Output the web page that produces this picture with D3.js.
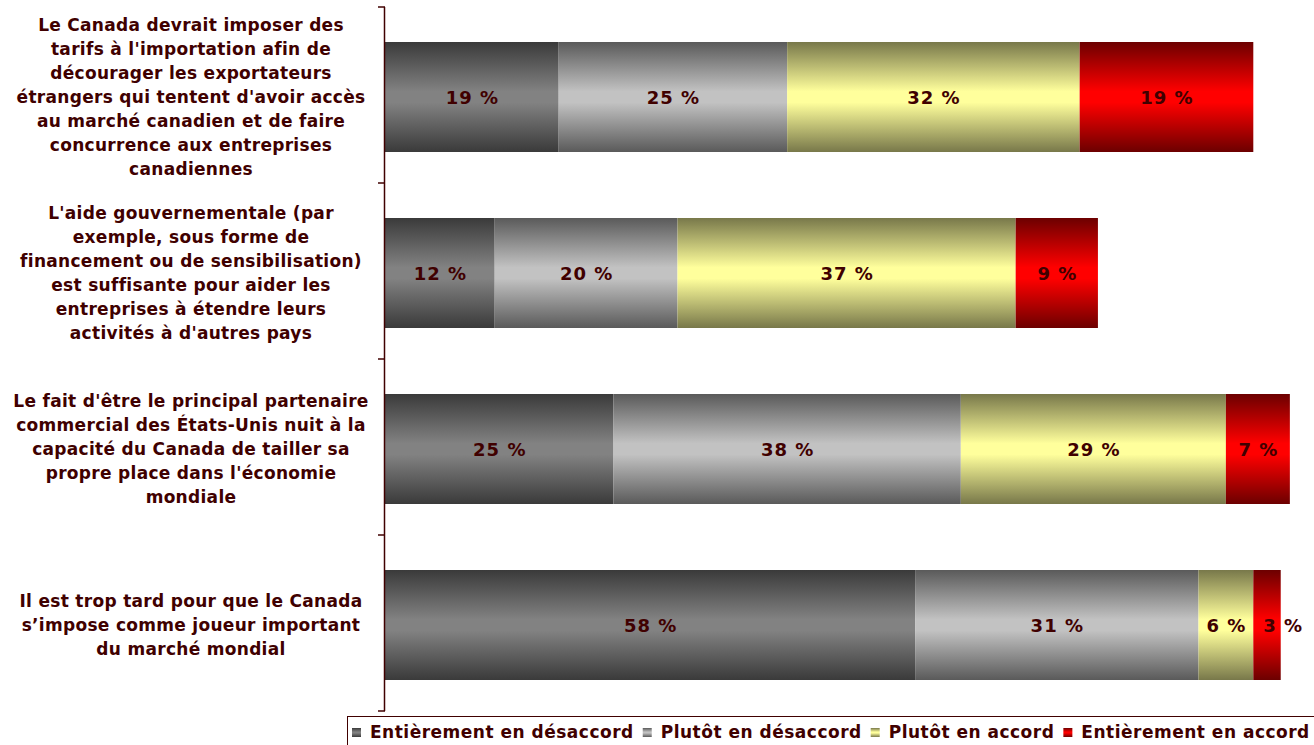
<!DOCTYPE html>
<html>
<head>
<meta charset="utf-8">
<script src="https://cdn.jsdelivr.net/npm/d3@7"></script>
<style>
  html, body { margin: 0; padding: 0; background: #fff; }
  svg { display: block; }
  text { font-family: "DejaVu Sans", Verdana, sans-serif; font-weight: bold; fill: #400000; }
</style>
</head>
<body>
<svg id="chart" width="1314" height="745"></svg>
<script>
// Survey statements (one line per array entry)
const statements = [
  ["Le Canada devrait imposer des", "tarifs à l'importation afin de", "décourager les exportateurs",
   "étrangers qui tentent d'avoir accès", "au marché canadien et de faire",
   "concurrence aux entreprises", "canadiennes"],
  ["L'aide gouvernementale (par", "exemple, sous forme de", "financement ou de sensibilisation)",
   "est suffisante pour aider les", "entreprises à étendre leurs", "activités à d'autres pays"],
  ["Le fait d'être le principal partenaire", "commercial des États-Unis nuit à la",
   "capacité du Canada de tailler sa", "propre place dans l'économie", "mondiale"],
  ["Il est trop tard pour que le Canada", "s’impose comme joueur important", "du marché mondial"]
];

// Answer categories
const seriesNames = ["Entièrement en désaccord", "Plutôt en désaccord", "Plutôt en accord", "Entièrement en accord"];

// Percentages per answer category, one value per statement
const stronglyDisagree = [19, 12, 25, 58];
const somewhatDisagree = [25, 20, 38, 31];
const somewhatAgree    = [32, 37, 29, 6];
const stronglyAgree    = [19, 9, 7, 3];

const seriesValues = [stronglyDisagree, somewhatDisagree, somewhatAgree, stronglyAgree];

// Gradient colours for each series: [edge, centre]
const seriesColors = [
  ["#3a3a3a", "#828282"],
  ["#5a5a5a", "#c2c2c2"],
  ["#78784a", "#ffff9c"],
  ["#6c0000", "#ff0000"]
];

const svg = d3.select("#chart");
const defs = svg.append("defs");
seriesColors.forEach((c, i) => {
  const g = defs.append("linearGradient")
    .attr("id", "grad" + i)
    .attr("x1", 0).attr("y1", 0).attr("x2", 0).attr("y2", 1);
  g.append("stop").attr("offset", "0%").attr("stop-color", c[0]);
  g.append("stop").attr("offset", "45%").attr("stop-color", c[1]);
  g.append("stop").attr("offset", "55%").attr("stop-color", c[1]);
  g.append("stop").attr("offset", "100%").attr("stop-color", c[0]);
});

const plotLeft = 385, plotRight = 1299, plotTop = 7, plotBottom = 711;

const x = d3.scaleLinear().domain([0, 100]).range([plotLeft, plotRight]);
const y = d3.scaleBand()
  .domain(d3.range(statements.length))
  .range([plotTop, plotBottom])
  .paddingInner(0.375)
  .paddingOuter(0.1875);

// Stack the series
const rows = d3.range(statements.length).map(i => {
  const r = { idx: i };
  seriesNames.forEach((s, k) => r[k] = seriesValues[k][i]);
  return r;
});
const stack = d3.stack().keys(d3.range(seriesNames.length));
const stacked = stack(rows);

const layers = svg.append("g").selectAll("g")
  .data(stacked)
  .join("g")
  .attr("fill", (d, k) => `url(#grad${k})`);

layers.selectAll("rect")
  .data(d => d)
  .join("rect")
  .attr("x", d => x(d[0]))
  .attr("y", d => y(d.data.idx) + 2)
  .attr("width", d => x(d[1]) - x(d[0]))
  .attr("height", y.bandwidth());

// Value labels (centred; a label wider than its segment starts just inside it)
const labelG = svg.append("g");
stacked.forEach((layer, k) => {
  labelG.selectAll(null)
    .data(layer)
    .join("text")
    .attr("y", d => y(d.data.idx) + 2 + y.bandwidth() / 2)
    .attr("dominant-baseline", "central")
    .style("font-size", "18px")
    .style("letter-spacing", "1px")
    .text(d => `${d[1] - d[0]} %`)
    .each(function (d) {
      const w = this.getComputedTextLength();
      const segW = x(d[1]) - x(d[0]);
      const t = d3.select(this);
      if (w > segW) {
        t.attr("x", x(d[0]) + 10).attr("text-anchor", "start");
      } else {
        t.attr("x", (x(d[0]) + x(d[1])) / 2 + 0.5).attr("text-anchor", "middle");
      }
    });
});

// Category axis with ticks at band boundaries
const axisG = svg.append("g");
axisG.append("line")
  .attr("x1", plotLeft - 0.5).attr("x2", plotLeft - 0.5)
  .attr("y1", plotTop).attr("y2", plotBottom)
  .attr("stroke", "#400000").attr("stroke-width", 1.5);
const bounds = d3.range(statements.length + 1).map(i => plotTop + i * y.step());
axisG.selectAll("line.tick")
  .data(bounds)
  .join("line")
  .attr("class", "tick")
  .attr("x1", plotLeft - 7).attr("x2", plotLeft)
  .attr("y1", d => d).attr("y2", d => d)
  .attr("stroke", "#400000").attr("stroke-width", 1.5);

// Category labels
const lineH = 24;
const catG = svg.append("g");
statements.forEach((lines, i) => {
  const cy = y(i) + 2 + y.bandwidth() / 2;
  const t = catG.append("text")
    .attr("text-anchor", "middle")
    .style("font-size", "17px")
    .style("letter-spacing", "0.3px");
  lines.forEach((ln, j) => {
    t.append("tspan")
      .attr("x", 191)
      .attr("y", cy + (j - (lines.length - 1) / 2) * lineH)
      .attr("dominant-baseline", "central")
      .text(ln);
  });
});

// Legend
const legend = svg.append("g");
legend.append("rect")
  .attr("x", 347.5).attr("y", 716.5)
  .attr("width", 1000).attr("height", 40)
  .attr("fill", "#fff").attr("stroke", "#400000").attr("stroke-width", 1);
let lx = 352;
seriesNames.forEach((name, k) => {
  legend.append("rect")
    .attr("x", lx).attr("y", 728)
    .attr("width", 9).attr("height", 9)
    .attr("fill", `url(#grad${k})`);
  const t = legend.append("text")
    .attr("x", lx + 18).attr("y", 732)
    .attr("dominant-baseline", "central")
    .style("font-size", "17px")
    .style("letter-spacing", "0.5px")
    .text(name);
  lx += 18 + t.node().getComputedTextLength() + 9;
});
</script>
</body>
</html>
